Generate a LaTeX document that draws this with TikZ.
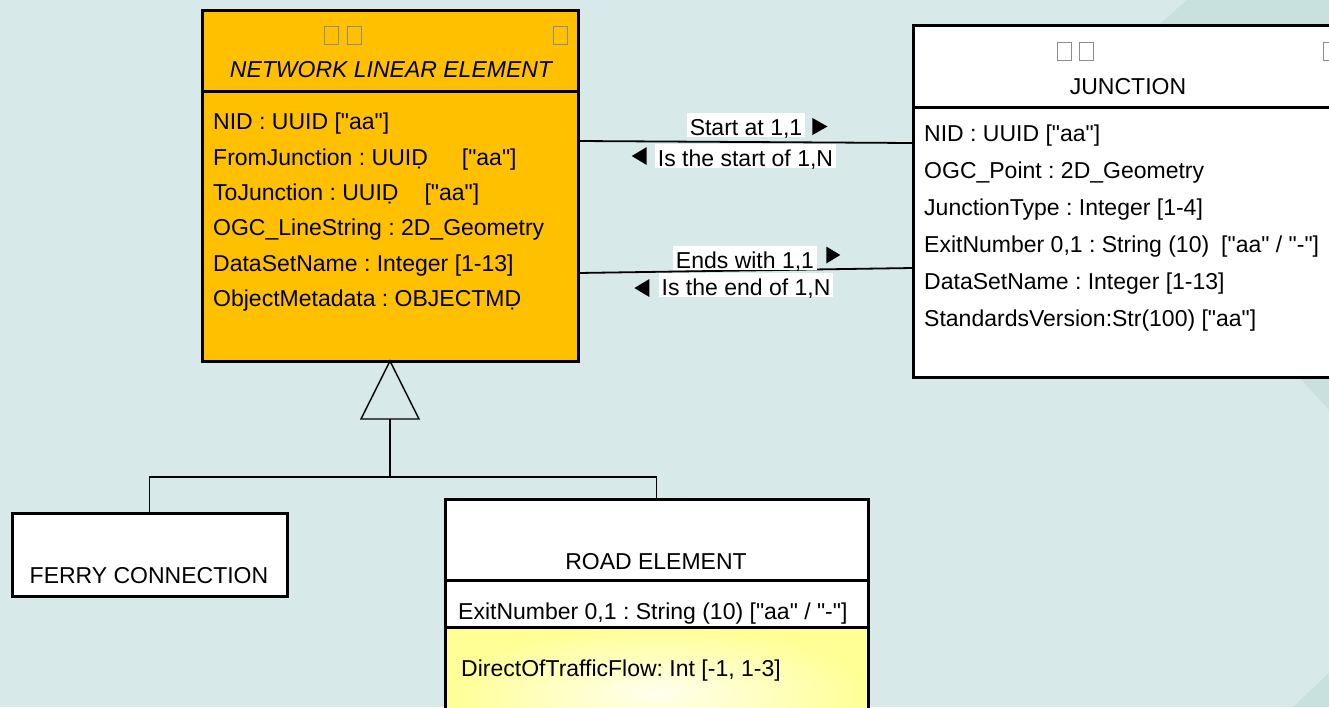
\documentclass[tikz,border=0pt]{standalone}
\usepackage{fontspec}
\setmainfont{Liberation Sans}[Ligatures=TeXOff]
\frenchspacing
\definecolor{bg}{RGB}{215,234,233}
\definecolor{bgdark}{RGB}{200,224,222}
\definecolor{nlefill}{RGB}{255,192,0}
\definecolor{yelout}{RGB}{255,255,150}
\definecolor{yelin}{RGB}{255,255,238}
\newcommand\attrsize{\fontsize{23}{27}\selectfont}
\begin{document}
\begin{tikzpicture}[x=1pt,y=-1pt,
  umlbox/.style={draw=black, line width=3pt, rectangle, inner sep=0pt, outer sep=0pt, anchor=north west},
  sepline/.style={draw=black, line width=3pt},
  attr/.style={anchor=west, inner sep=0pt, text height=16.5pt, text depth=0pt, font=\attrsize},
  ttl/.style={anchor=center, inner sep=0pt, text height=16.5pt, text depth=0pt, font=\attrsize},
  lab/.style={fill=white, inner xsep=3pt, inner ysep=0pt, text height=22pt, text depth=2pt, font=\attrsize},
  tofu/.style={draw=black!45, line width=0.9pt, rectangle, minimum width=14pt, minimum height=18pt, inner sep=0pt},
  conn/.style={draw=black, line width=1.8pt},
  gline/.style={draw=black, line width=1.8pt},
  tri/.style={draw=black, line width=1.4pt, line join=miter}
]
\useasboundingbox (0,0) rectangle (1329,707);
\clip (0,0) rectangle (1329,707);
% background
\fill[bg] (0,0) rectangle (1329,707);
\fill[bgdark] (1187,0) -- (1060,113) -- (1329,410) -- (1329,0) -- cycle;
\fill[bgdark] (1293,707) -- (1329,707) -- (1329,673) -- cycle;

% NETWORK LINEAR ELEMENT
\node[umlbox, fill=nlefill, minimum width=376pt, minimum height=351pt] (nle) at (202,10) {};
\draw[sepline] (nle.west |- 0,91) -- (nle.east |- 0,91);
\node[tofu] (nt1) at (331.5,35) {};
\node[tofu] (nt2) at (354,35) {};
\node[tofu] (nt3) at (560.5,35) {};
\node[ttl, font=\attrsize\itshape] (nlet) at (391,69) {NETWORK LINEAR ELEMENT};
\node[attr] (na1) at (213,121) {NID : UUID ["aa"]};
\node[attr] (na2) at (213,157) {FromJunction : UUIḌ\hspace{34pt}["aa"]};
\node[attr] (na3) at (213,192) {ToJunction : UUIḌ\hspace{26pt}["aa"]};
\node[attr] (na4) at (213,227) {OGC\_LineString : 2D\_Geometry};
\node[attr] (na5) at (213,263) {DataSetName : Integer [1-13]};
\node[attr] (na6) at (213,298) {ObjectMetadata : OBJECTMḌ};

% JUNCTION
\node[umlbox, fill=white, minimum width=440pt, minimum height=352pt] (junc) at (913,25) {};
\draw[sepline] (junc.west |- 0,107) -- (junc.east |- 0,107);
\node[tofu] (jt1) at (1064.5,51.5) {};
\node[tofu] (jt2) at (1086,51.5) {};
\node[tofu] (jt3) at (1330,51.5) {};
\node[ttl] (junct) at (1128,86) {JUNCTION};
\node[attr] (ja1) at (924,133) {NID : UUID ["aa"]};
\node[attr] (ja2) at (924,170) {OGC\_Point : 2D\_Geometry};
\node[attr] (ja3) at (924,207) {JunctionType : Integer [1-4]};
\node[attr] (ja4) at (924,244) {ExitNumber 0,1 : String (10)\hspace{12pt}["aa" / "-"]};
\node[attr] (ja5) at (924,281) {DataSetName : Integer [1-13]};
\node[attr] (ja6) at (924,318) {StandardsVersion:Str(100) ["aa"]};

% FERRY CONNECTION
\node[umlbox, fill=white, minimum width=275pt, minimum height=83pt] (ferry) at (12,513) {};
\node[ttl] (ferryt) at (149,575) {FERRY CONNECTION};

% ROAD ELEMENT
\node[umlbox, fill=white, minimum width=423pt, minimum height=260pt] (road) at (445,499) {};
\shade[inner color=yelin, outer color=yelout] (447,627) rectangle (866,759);
\draw[sepline] (road.west |- 0,580) -- (road.east |- 0,580);
\draw[sepline] (road.west |- 0,627) -- (road.east |- 0,627);
\draw[line width=3pt] (road.north west) rectangle (road.south east);
\node[ttl] (roadt) at (656,561) {ROAD ELEMENT};
\node[attr] (ra1) at (458,611) {ExitNumber 0,1 : String (10) ["aa" / "-"]};
\node[attr] (ra2) at (461,668) {DirectOfTrafficFlow: Int [-1, 1-3]};

% associations
\draw[conn] ([yshift=-131pt]nle.north east) -- ([yshift=-118pt]junc.north west);
\draw[conn] ([yshift=-263pt]nle.north east) -- ([yshift=-243pt]junc.north west);
\node[lab] (l1) at (746,125) {Start at 1,1};
\node[lab] (l2) at (745.5,156) {Is the start of 1,N};
\node[lab] (l3) at (745,258) {Ends with 1,1};
\node[lab] (l4) at (746,285) {Is the end of 1,N};
\fill ([xshift=7pt,yshift=-1.5pt]l1.east) ++(0,-8.5) -- ++(15,8.5) -- ++(-15,8.5) -- cycle;
\fill ([xshift=-8pt]l2.west) ++(0,-9) -- ++(-15,9) -- ++(15,9) -- cycle;
\fill ([xshift=9pt,yshift=3pt]l3.east) ++(0,-8.5) -- ++(14,8.5) -- ++(-14,8.5) -- cycle;
\fill ([xshift=-9pt,yshift=-3pt]l4.west) ++(0,-9) -- ++(-15,9) -- ++(15,9) -- cycle;

% generalization
\draw[tri] (nle.south) -- ++(-29,58) -- ++(58,0) -- cycle;
\coordinate (tb) at ([yshift=-58pt]nle.south);
\coordinate (hub) at ([yshift=-116pt]nle.south);
\draw[gline] (tb) -- (hub);
\draw[gline] (ferry.north) |- (hub) -| (road.north);
\end{tikzpicture}
\end{document}
